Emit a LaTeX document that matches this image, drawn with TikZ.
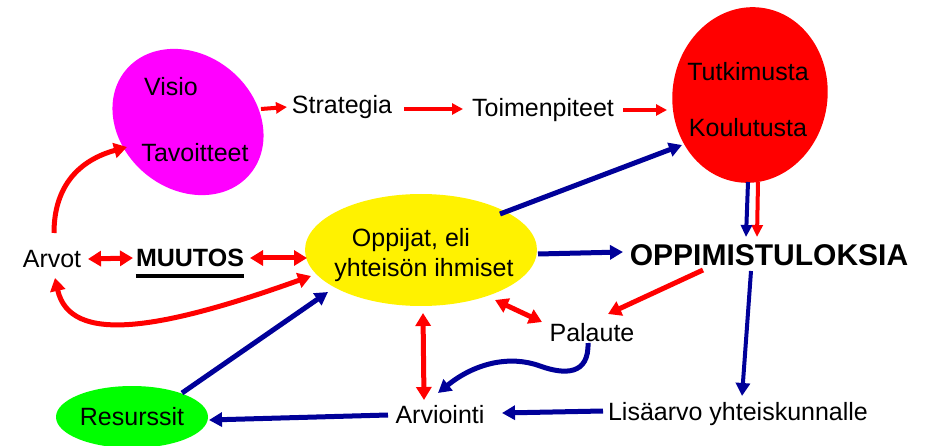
\documentclass[tikz,border=0pt]{standalone}
\usepackage{fontspec}
\setmainfont{Liberation Sans}
\usetikzlibrary{arrows.meta,shapes.geometric}
\definecolor{navy}{RGB}{0,0,153}
\definecolor{mag}{RGB}{255,0,255}
\definecolor{lime}{RGB}{0,255,0}
\begin{document}
\begin{tikzpicture}[x=1pt,y=-1pt,
  txt/.style={inner sep=0pt,font=\fontsize{25}{30}\selectfont},
  blob/.style={ellipse,draw=none,inner sep=0pt},
  rarrow/.style={draw=red,line width=4pt,-{Triangle[length=11pt,width=11pt]},red},
  rbig/.style={draw=red,line width=5pt,-{Triangle[length=13pt,width=15pt]},red},
  rboth/.style={draw=red,line width=5pt,{Triangle[length=13pt,width=15pt]}-{Triangle[length=13pt,width=15pt]},red},
  barrow/.style={draw=navy,line width=5pt,-{Triangle[length=13pt,width=14pt]},navy},
  thinpair/.style={line width=4pt,-{Triangle[length=12pt,width=11pt]}}
]
\useasboundingbox (0,0) rectangle (931,446);

% coloured blobs
\node[blob,fill=mag,minimum width=162pt,minimum height=134pt,rotate=-40] (mag) at (188,122) {};
\node[blob,fill=red,minimum width=155pt,minimum height=176pt,rotate=-8] (rd) at (750,95) {};
\node[blob,fill=yellow,minimum width=232pt,minimum height=112pt] (yel) at (421,250) {};
\node[blob,fill=lime,minimum width=152pt,minimum height=62pt,txt] (grn) at (132,417) {Resurssit};

% texts
\node[txt] (visio) at (171,87) {Visio};
\node[txt] (tav) at (195,153) {Tavoitteet};
\node[txt] (tut) at (748,72) {Tutkimusta};
\node[txt] (kou) at (748,128) {Koulutusta};
\node[txt] (opp1) at (411,240) {Oppijat, eli};
\node[txt] (opp2) at (424,270) {yhteisön ihmiset};
\node[txt] (strat) at (342,107) {Strategia};
\node[txt] (toim) at (543,110) {Toimenpiteet};
\node[txt] (arvot) at (52,259) {Arvot};
\node[txt,font=\fontsize{25}{30}\selectfont\bfseries] (muutos) at (190,258) {MUUTOS};
\draw[line width=4pt] ([yshift=-9.5pt]muutos.base west) -- ([yshift=-9.5pt]muutos.base east);
\node[txt,font=\fontsize{30}{36}\selectfont\bfseries] (opp) at (769,255) {OPPIMISTULOKSIA};
\node[txt] (pal) at (592,333) {Palaute};
\node[txt] (arv) at (440,415) {Arviointi};
\node[txt] (lis) at (738,414) {Lisäarvo yhteiskunnalle};

% red chain along the top
\draw[rarrow] ([shift={(73,-13)}]mag.center) -- ([shift={(-55,0)}]strat.center);
\draw[rarrow] ([shift={(62,2)}]strat.center) -- ([shift={(-80,-1)}]toim.center);
\draw[rarrow] ([shift={(80,0)}]toim.center) -- ([shift={(-83,15)}]rd.center);

% values
\draw[rbig] ([shift={(2,-26)}]arvot.center) .. controls ([shift={(2,-74)}]arvot.center) and ([shift={(28,-99)}]arvot.center) .. ([shift={(-61,25)}]mag.center);
\draw[rboth] ([shift={(36,0)}]arvot.center) -- ([shift={(-57,0)}]muutos.center);
\draw[rboth] ([shift={(60,0)}]muutos.center) -- ([shift={(-114,8)}]yel.center);
\draw[rboth] ([shift={(3,19)}]arvot.center) .. controls ([shift={(18,86)}]arvot.center) and ([shift={(108,71)}]arvot.center) .. ([shift={(-110,26)}]yel.center);

% results
\draw[red,thinpair] ([shift={(8,87)}]rd.center) -- ([shift={(-12,-18)}]opp.center);
\draw[navy,thinpair] ([shift={(-2,87)}]rd.center) -- ([shift={(-23,-18)}]opp.center);
\draw[rbig] ([shift={(-66,15)}]opp.center) -- ([shift={(16,-19)}]pal.center);
\draw[rboth] ([shift={(74,50)}]yel.center) -- ([shift={(-50,-11)}]pal.center);
\draw[rboth] ([shift={(2,63)}]yel.center) -- ([shift={(-16,-15)}]arv.center);

% blue flow
\draw[barrow] ([shift={(79,-36)}]yel.center) -- ([shift={(-68,50)}]rd.center);
\draw[barrow] ([shift={(117,4)}]yel.center) -- ([shift={(-146,-3)}]opp.center);
\draw[barrow,line width=4pt] ([shift={(-18,16)}]opp.center) -- ([shift={(4,-18)}]lis.center);
\draw[barrow] ([shift={(-4,10)}]pal.center) .. controls ([shift={(-3,42)}]pal.center) and ([shift={(-27,42)}]pal.center) .. ([shift={(-52,33)}]pal.center)
  .. controls ([shift={(-82,22)}]pal.center) and ([shift={(-117,30)}]pal.center) .. ([shift={(-2,-22)}]arv.center);
\draw[barrow] ([shift={(-135,-3)}]lis.center) -- ([shift={(62,-2)}]arv.center);
\draw[barrow] ([shift={(-52,0)}]arv.center) -- ([shift={(77,3)}]grn.center);
\draw[barrow] ([shift={(50,-24)}]grn.center) -- ([shift={(-93,42)}]yel.center);
\end{tikzpicture}
\end{document}
